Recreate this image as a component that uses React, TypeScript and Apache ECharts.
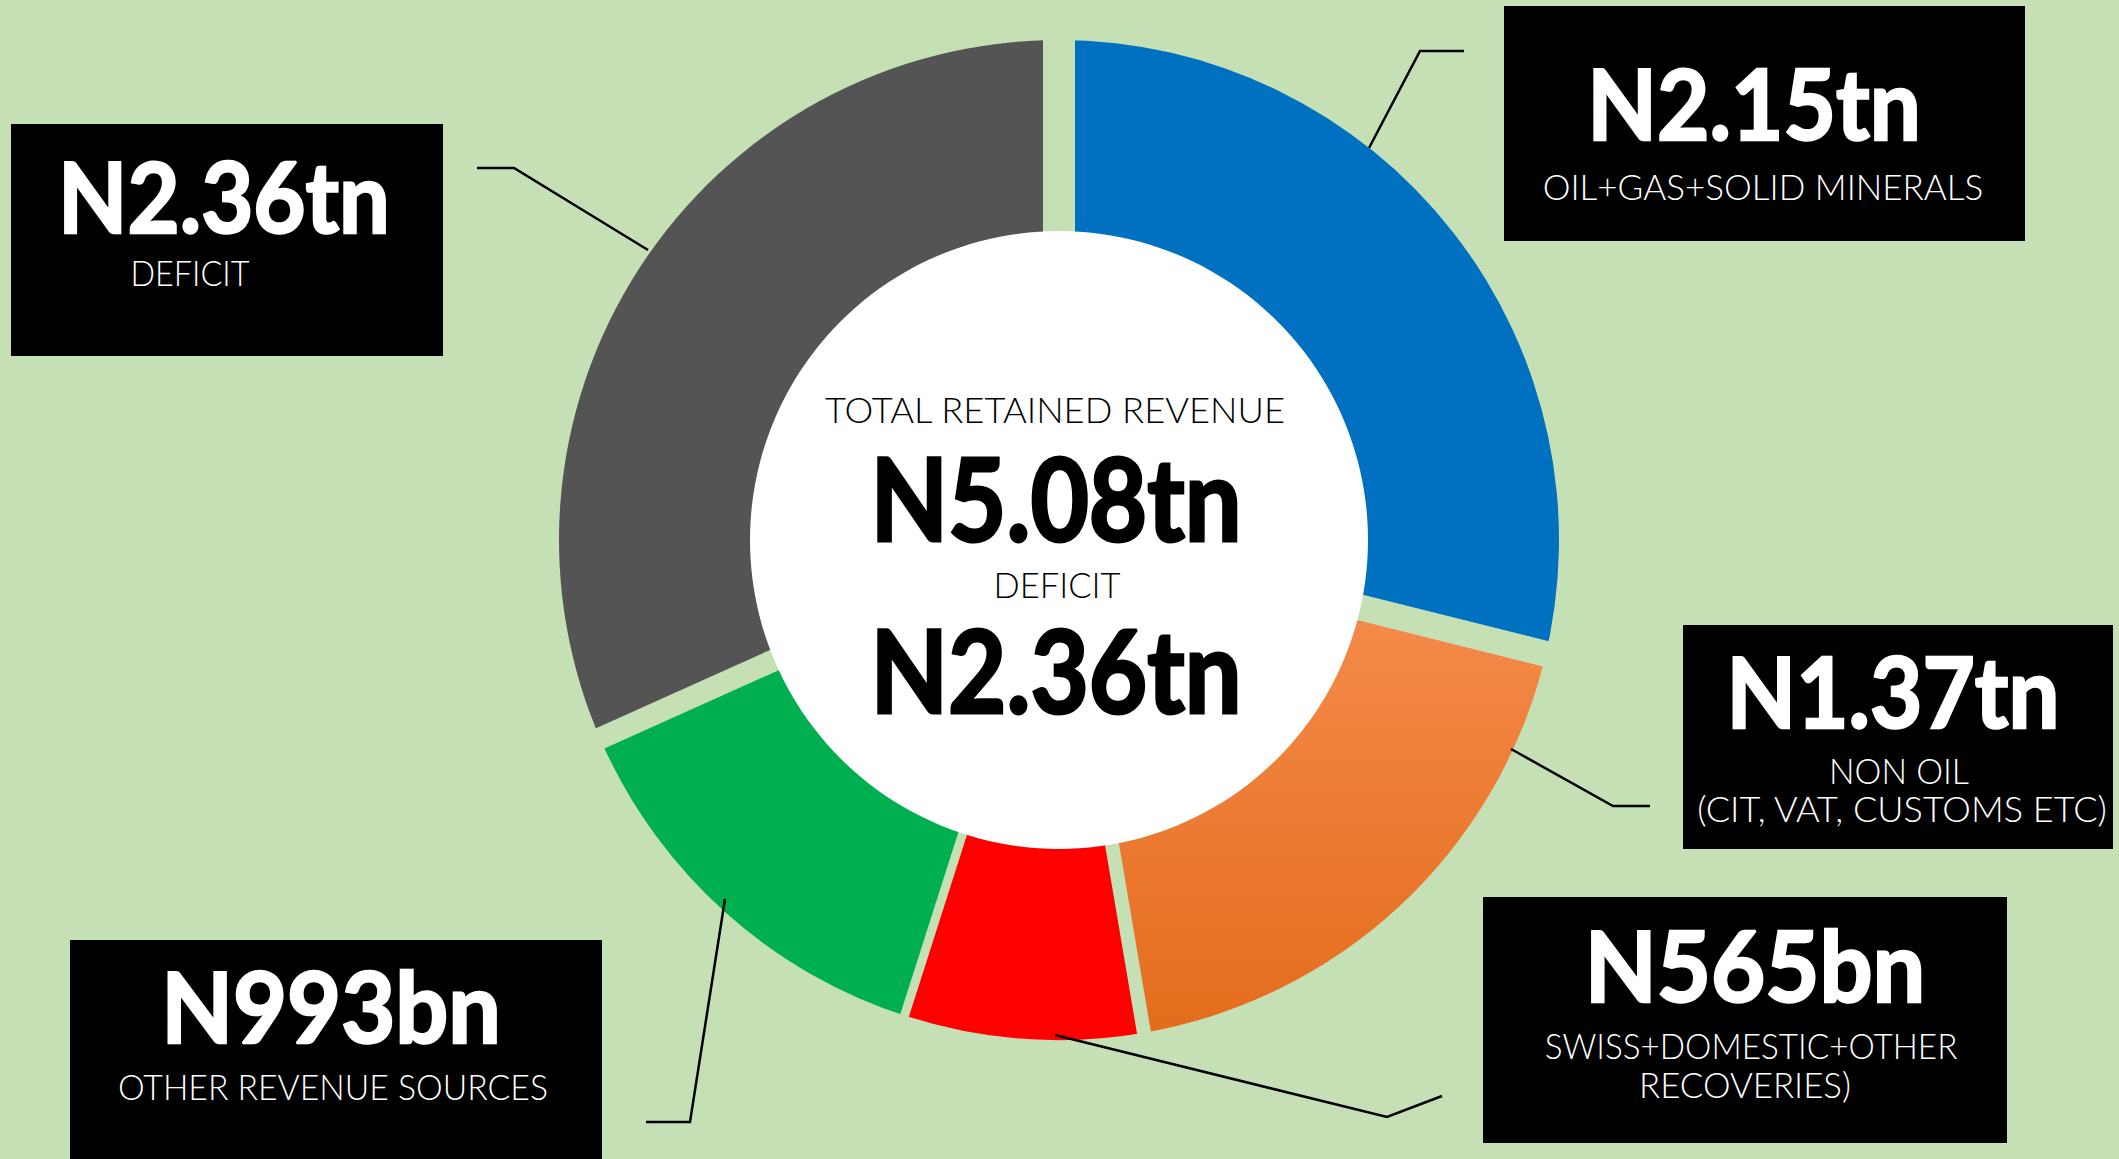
import React, { useEffect, useRef } from 'react';
import * as echarts from 'echarts';

// ---------- data ----------
const CATEGORIES = [
  'Oil+Gas+Solid Minerals',
  'Non Oil',
  'Swiss+Domestic+Other Recoveries',
  'Other Revenue Sources',
  'Deficit',
];
const VALUES = [2.15, 1.37, 0.565, 0.993, 2.36]; // trillion naira
const VALUE_LABELS = ['N2.15tn', 'N1.37tn', 'N565bn', 'N993bn', 'N2.36tn'];
const DESCRIPTIONS = [
  ['OIL+GAS+SOLID MINERALS'],
  ['NON OIL', '(CIT, VAT, CUSTOMS ETC)'],
  ['SWISS+DOMESTIC+OTHER', 'RECOVERIES)'],
  ['OTHER REVENUE SOURCES'],
  ['DEFICIT'],
];
const CENTER_TITLE = 'TOTAL RETAINED REVENUE';
const CENTER_TOTAL = 'N5.08tn';
const CENTER_DEFICIT_LABEL = 'DEFICIT';
const CENTER_DEFICIT = 'N2.36tn';

// ---------- styles / layout ----------
const W = 2119;
const H = 1159;
const BG = '#C5E0B4';
const CX = 1059;
const CY = 540;
const GAP_CY = 532;
const R_OUT = 500;
const R_IN = 290;
const R_WHITE = 309;
const COLORS: any[] = [
  '#0070C0',
  new echarts.graphic.LinearGradient(0, 0, 0, 1, [
    { offset: 0, color: '#F48A4A' },
    { offset: 1, color: '#E46C1C' },
  ]),
  '#FF0000',
  '#00B050',
  '#545454',
];
// gap after each slice (between slice i and slice i+1), px
const GAPS = [26, 14, 9, 22, 32];

// label boxes: [x, y, w, h]
const BOXES = [
  [1504, 6, 521, 235],
  [1683, 625, 430, 224],
  [1483, 897, 524, 246],
  [70, 940, 532, 230],
  [11, 124, 432, 232],
];
// number text: [centerX, capMidY, targetWidth]
const NUM_POS = [
  [1754, 105, 336],
  [1893, 693, 335],
  [1755, 967, 343],
  [331, 1008, 342],
  [224, 198, 334],
];
// description lines: [centerX, capMidY, targetWidth]
const DESC_POS = [
  [[1763, 187, 441]],
  [[1899, 771, 140], [1902, 810, 411]],
  [[1751, 1046, 413], [1745, 1086, 212]],
  [[333, 1087, 430]],
  [[190, 274, 119]],
];
const LEADERS = [
  [[1464, 51], [1420, 51], [1369, 148]],
  [[1511, 749], [1613, 806], [1650, 806]],
  [[1055, 1035], [1387, 1117], [1442, 1096]],
  [[725, 899], [690, 1122], [646, 1122]],
  [[477, 168], [514, 168], [648, 250]],
];

const FONT = 'Lato';
const NUM_WEIGHT = 700;
const DESC_WEIGHT = 300;

let measureCtx: CanvasRenderingContext2D | null = null;
function measure(text: string, size: number, weight: number | string) {
  if (!measureCtx) measureCtx = document.createElement('canvas').getContext('2d');
  measureCtx!.font = `${weight} ${size}px ${FONT}`;
  return measureCtx!.measureText(text).width;
}

function textEl(
  text: string,
  x: number,
  capMid: number,
  size: number,
  weight: number | string,
  targetW: number,
  fill: string,
  z: number,
  thicken = 0
) {
  const w = measure(text, size, weight) + thicken;
  const sx = targetW && w ? targetW / w : 1;
  const style: any = {
    text,
    fill,
    fontSize: size,
    fontWeight: weight,
    fontFamily: FONT,
    textAlign: 'center',
    textVerticalAlign: 'middle',
    align: 'center',
    verticalAlign: 'middle',
  };
  if (thicken) {
    style.stroke = fill;
    style.lineWidth = thicken;
  }
  return {
    type: 'text',
    x,
    y: capMid - size * 0.03,
    scaleX: sx,
    z,
    silent: true,
    style,
  };
}

export default function App() {
  const ref = useRef<HTMLDivElement>(null);
  useEffect(() => {
    if (!ref.current) return;
    const chart = echarts.init(ref.current, undefined, { renderer: 'svg' });

    const total = VALUES.reduce((a, b) => a + b, 0);
    const elements: any[] = [];

    // gaps between slices
    let cum = 0;
    VALUES.forEach((v, i) => {
      cum += v;
      const a = (cum / total) * Math.PI * 2;
      const L = R_OUT + 40;
      elements.push({
        type: 'line',
        z: 10,
        silent: true,
        shape: { x1: CX, y1: GAP_CY, x2: CX + L * Math.sin(a), y2: GAP_CY - L * Math.cos(a) },
        style: { stroke: BG, lineWidth: GAPS[i], lineCap: 'butt' },
      });
    });

    // white centre
    elements.push({
      type: 'circle',
      z: 11,
      silent: true,
      shape: { cx: CX, cy: CY, r: R_WHITE },
      style: { fill: '#FFFFFF' },
    });

    // centre texts
    elements.push(textEl(CENTER_TITLE, 1055, 410, 36, DESC_WEIGHT, 461, '#000', 12));
    elements.push(textEl(CENTER_TOTAL, 1056, 500, 114, NUM_WEIGHT, 374, '#000', 12, 3));
    elements.push(textEl(CENTER_DEFICIT_LABEL, 1057, 585, 36, DESC_WEIGHT, 127, '#000', 12));
    elements.push(textEl(CENTER_DEFICIT, 1056, 672, 114, NUM_WEIGHT, 374, '#000', 12, 3));

    // label boxes
    VALUE_LABELS.forEach((lab, i) => {
      const [bx, by, bw, bh] = BOXES[i];
      elements.push({
        type: 'rect',
        z: 13,
        silent: true,
        shape: { x: bx, y: by, width: bw, height: bh },
        style: { fill: '#000000' },
      });
      const [nx, ny, nw] = NUM_POS[i];
      elements.push(textEl(lab, nx, ny, 98, NUM_WEIGHT, nw, '#FFFFFF', 14, 2.5));
      DESCRIPTIONS[i].forEach((d, j) => {
        const [dx, dy, dw] = DESC_POS[i][j];
        elements.push(textEl(d, dx, dy, 35, DESC_WEIGHT, dw, '#FFFFFF', 14));
      });
      elements.push({
        type: 'polyline',
        z: 15,
        silent: true,
        shape: { points: LEADERS[i] },
        style: { stroke: '#000000', lineWidth: 2.5, fill: null },
      });
    });

    chart.setOption({
      animation: false,
      backgroundColor: BG,
      series: [
        {
          type: 'pie',
          center: [CX, CY],
          radius: [R_IN, R_OUT],
          startAngle: 90,
          clockwise: true,
          silent: true,
          z: 2,
          label: { show: false },
          labelLine: { show: false },
          emphasis: { disabled: true },
          data: VALUES.map((v, i) => ({
            name: CATEGORIES[i],
            value: v,
            itemStyle: { color: COLORS[i] },
          })),
        },
      ],
      graphic: { elements },
    });

    return () => chart.dispose();
  }, []);

  return (
    <div
      ref={ref}
      style={{ position: 'absolute', left: 0, top: 0, width: W, height: H }}
    />
  );
}
